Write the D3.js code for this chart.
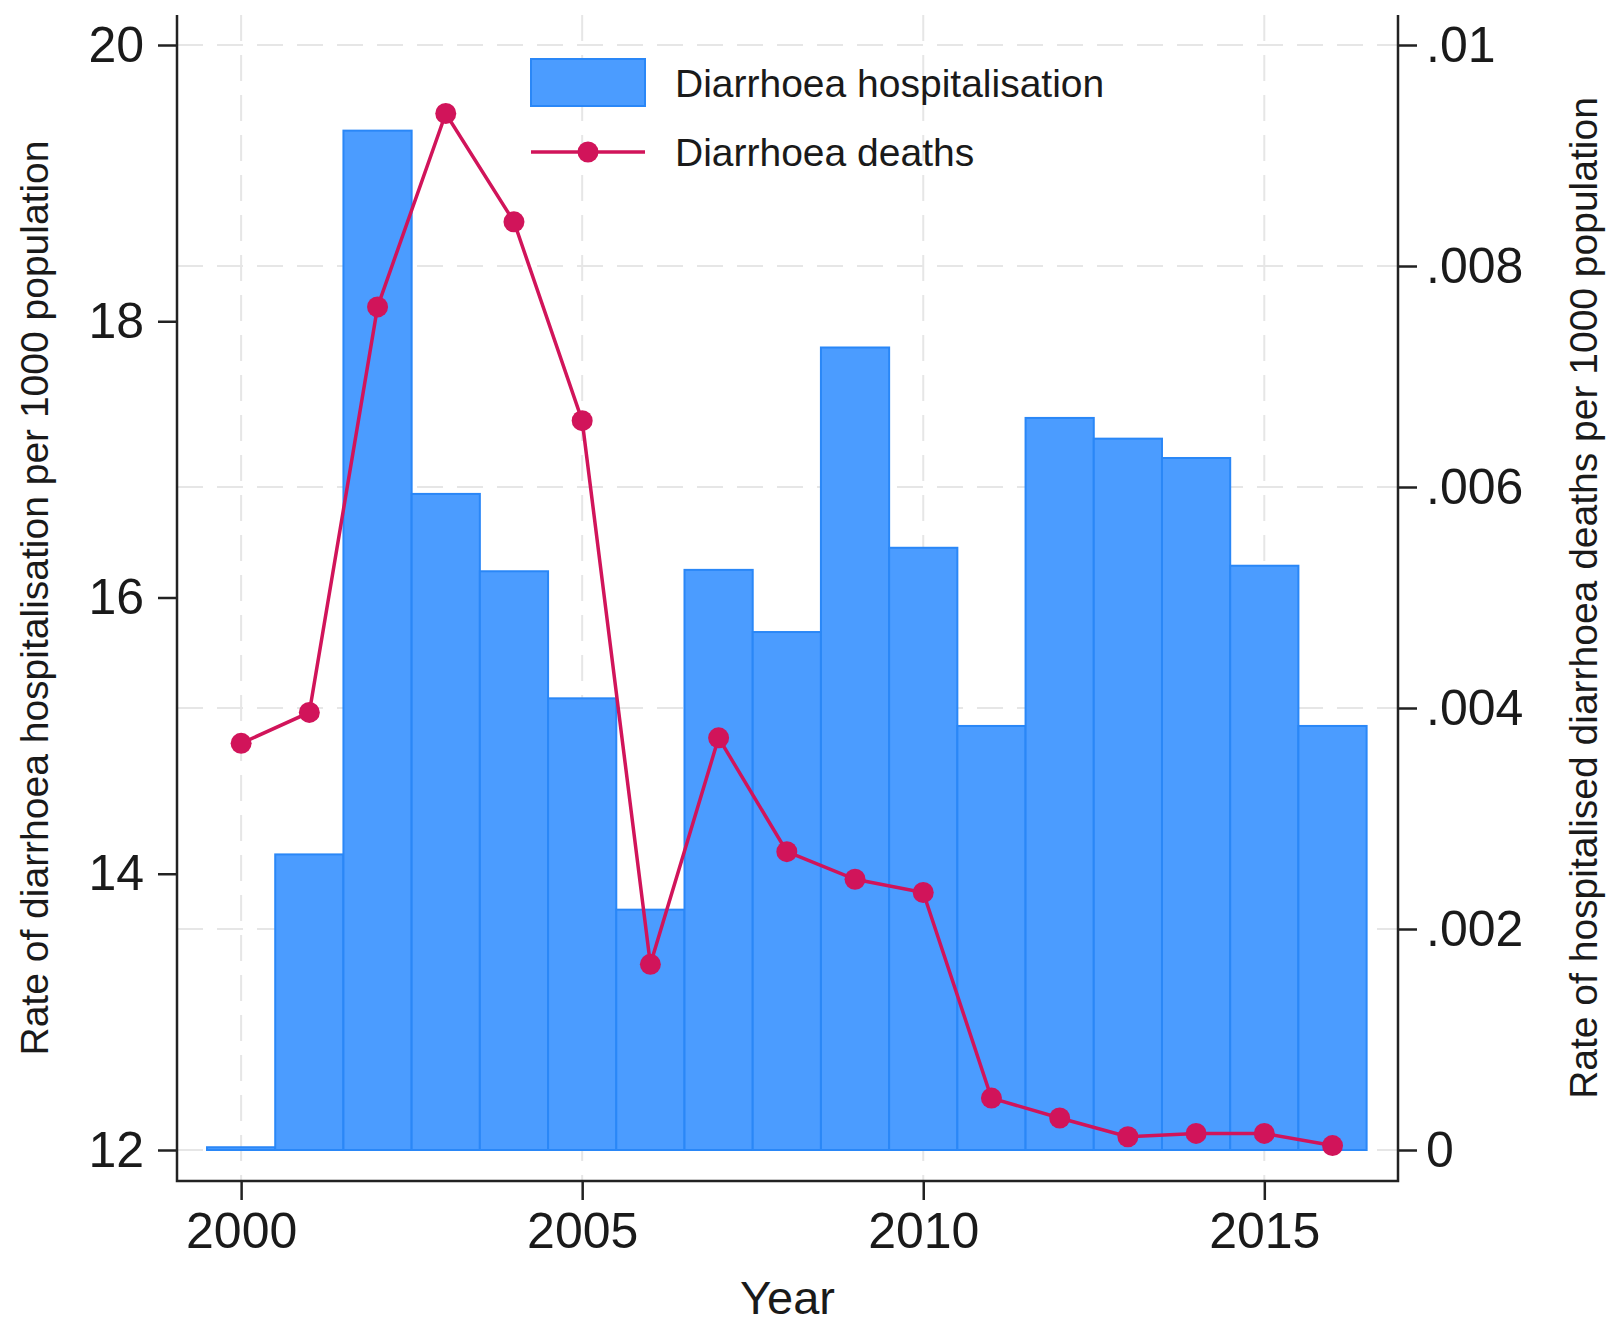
<!DOCTYPE html>
<html>
<head>
<meta charset="utf-8">
<script src="https://cdn.jsdelivr.net/npm/d3@7"></script>
<style>
  body { margin: 0; background: #fff; }
  text { font-family: "Liberation Sans", Arial, sans-serif; fill: #1a1a1a; }
</style>
</head>
<body>
<svg id="chart" width="1612" height="1329"></svg>
<script>
// Data
var years = [2000, 2001, 2002, 2003, 2004, 2005, 2006, 2007, 2008, 2009, 2010, 2011, 2012, 2013, 2014, 2015, 2016];
var hospRate = [12.02, 14.14, 19.38, 16.75, 16.19, 15.27, 13.74, 16.2, 15.75, 17.81, 16.36, 15.07, 17.3, 17.15, 17.01, 16.23, 15.07];
var deathRate = [0.00368, 0.00396, 0.00763, 0.00938, 0.0084, 0.0066, 0.00168, 0.00373, 0.0027, 0.00245, 0.00233, 0.00047, 0.00029, 0.00012, 0.00015, 0.00015, 0.00004];

var xTicks = [2000, 2005, 2010, 2015];
var yLeftTicks = [12, 14, 16, 18, 20];
var yRightTicks = [0, 0.002, 0.004, 0.006, 0.008, 0.01];

var barColor = '#4b9cff', barEdge = '#2a87f7', lineColor = '#d1145a';

// frame of the plot region
var plotL = 177, plotR = 1398, plotT = 15, plotB = 1181;

var svg = d3.select('#chart');

var x = d3.scaleLinear().domain([1999.06, 2016.96]).range([plotL, plotR]);
var yL = d3.scaleLinear().domain([12, 20]).range([1150, 45]);
var yR = d3.scaleLinear().domain([0, 0.01]).range([1150, 45]);

// dashed grid
var grid = svg.append('g').attr('stroke', '#e6e6e6').attr('stroke-width', 2).attr('stroke-dasharray', '26,14');
grid.selectAll('line.h').data(yRightTicks).enter().append('line')
  .attr('x1', plotL).attr('x2', plotR)
  .attr('y1', function(d) { return yR(d); }).attr('y2', function(d) { return yR(d); });
grid.selectAll('line.v').data(xTicks).enter().append('line')
  .attr('y1', plotT).attr('y2', plotB)
  .attr('x1', function(d) { return x(d); }).attr('x2', function(d) { return x(d); });

// bars
svg.append('g').selectAll('rect').data(years).enter().append('rect')
  .attr('x', function(d) { return x(d - 0.5); })
  .attr('width', function(d) { return x(d + 0.5) - x(d - 0.5); })
  .attr('y', function(d, i) { return yL(hospRate[i]); })
  .attr('height', function(d, i) { return yL(12) - yL(hospRate[i]); })
  .attr('fill', barColor)
  .attr('stroke', barEdge)
  .attr('stroke-width', 2);

// deaths line + markers
var line = d3.line()
  .x(function(d) { return x(d); })
  .y(function(d, i) { return yR(deathRate[i]); });

svg.append('path').datum(years)
  .attr('d', line)
  .attr('fill', 'none')
  .attr('stroke', lineColor)
  .attr('stroke-width', 3.5);

svg.append('g').selectAll('circle').data(years).enter().append('circle')
  .attr('cx', function(d) { return x(d); })
  .attr('cy', function(d, i) { return yR(deathRate[i]); })
  .attr('r', 10.5)
  .attr('fill', lineColor);

// axes
var axisLeft = svg.append('g').attr('transform', 'translate(' + plotL + ',0)')
  .call(d3.axisLeft(yL).tickValues(yLeftTicks).tickSize(19).tickSizeOuter(0).tickPadding(14));
var axisRight = svg.append('g').attr('transform', 'translate(' + plotR + ',0)')
  .call(d3.axisRight(yR).tickValues(yRightTicks).tickSize(19).tickSizeOuter(0).tickPadding(9)
    .tickFormat(function(d) { return d === 0 ? '0' : d3.format('.3~f')(d).replace(/^0/, ''); }));
var axisBottom = svg.append('g').attr('transform', 'translate(0,' + plotB + ')')
  .call(d3.axisBottom(x).tickValues(xTicks).tickSize(19).tickSizeOuter(0).tickPadding(12)
    .tickFormat(d3.format('d')));

[axisLeft, axisRight, axisBottom].forEach(function(a) {
  a.select('.domain').remove();
  a.selectAll('.tick line').attr('stroke', '#222').attr('stroke-width', 2.5);
  a.selectAll('.tick text').style('font-size', '50px').attr('fill', '#1a1a1a');
});

// frame lines (left, bottom, right)
svg.append('path')
  .attr('d', 'M' + plotL + ',' + plotT + 'V' + plotB + 'H' + plotR + 'V' + plotT)
  .attr('fill', 'none').attr('stroke', '#222').attr('stroke-width', 2.5);

// axis titles
svg.append('text')
  .attr('x', (plotL + plotR) / 2).attr('y', 1314)
  .attr('text-anchor', 'middle').style('font-size', '47px')
  .text('Year');

svg.append('text')
  .attr('transform', 'translate(48,598) rotate(-90)')
  .attr('text-anchor', 'middle').style('font-size', '39px')
  .text('Rate of diarrhoea hospitalisation per 1000 population');

svg.append('text')
  .attr('transform', 'translate(1597,598) rotate(-90)')
  .attr('text-anchor', 'middle').style('font-size', '39px')
  .text('Rate of hospitalised diarrhoea deaths per 1000 population');

// legend
var legend = svg.append('g');
legend.append('rect')
  .attr('x', 531).attr('y', 59).attr('width', 114).attr('height', 47)
  .attr('fill', barColor).attr('stroke', barEdge).attr('stroke-width', 2);
legend.append('line')
  .attr('x1', 531).attr('x2', 645).attr('y1', 152).attr('y2', 152)
  .attr('stroke', lineColor).attr('stroke-width', 3.5);
legend.append('circle')
  .attr('cx', 588).attr('cy', 152).attr('r', 10.5).attr('fill', lineColor);
legend.append('text')
  .attr('x', 675).attr('y', 97).style('font-size', '39px')
  .text('Diarrhoea hospitalisation');
legend.append('text')
  .attr('x', 675).attr('y', 166).style('font-size', '39px')
  .text('Diarrhoea deaths');
</script>
</body>
</html>
